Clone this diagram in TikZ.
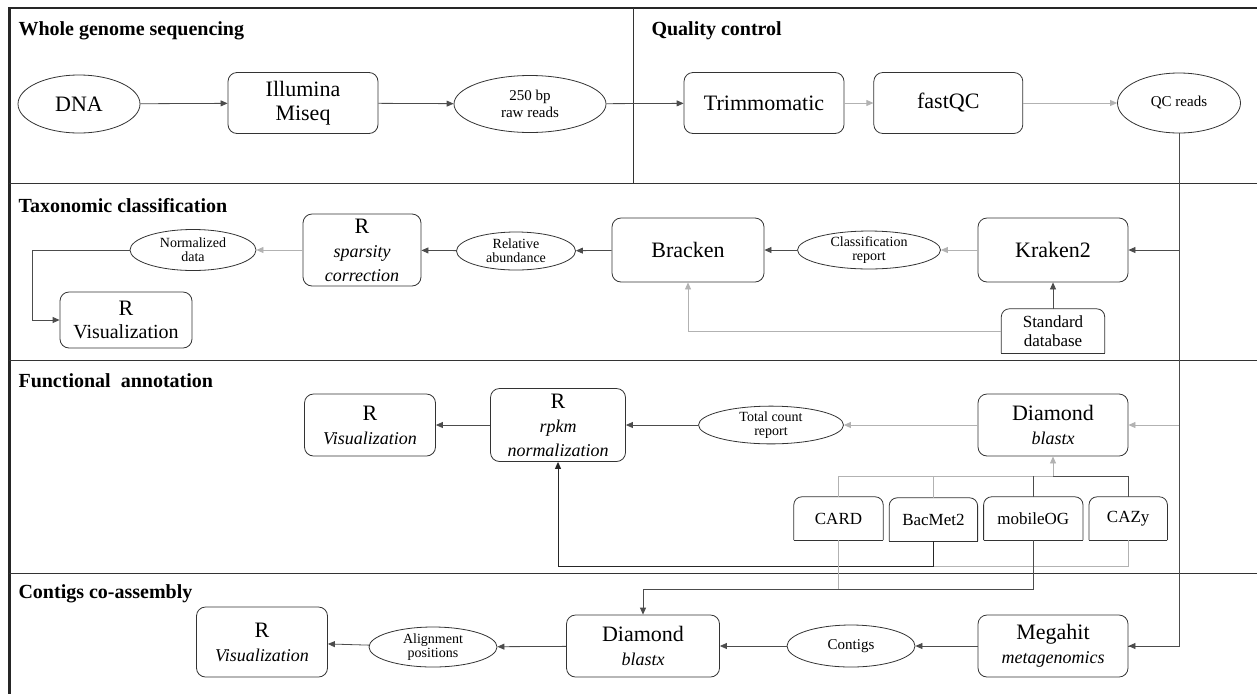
\documentclass[tikz,border=0pt]{standalone}
\usepackage{fontspec}
\setmainfont{Liberation Serif}
\usetikzlibrary{shapes.geometric, arrows.meta, positioning}

\newcommand{\subline}[1]{{\fontsize{18}{20}\selectfont\itshape #1}}

\tikzset{
  box/.style={draw=black!80, line width=0.8pt, rounded corners=9pt, align=center, inner sep=0pt, font=\fontsize{22}{24}\selectfont},
  oval/.style={draw=black!80, ellipse, line width=0.8pt, align=center, inner sep=0pt, font=\fontsize{14}{14}\selectfont},
  dbbox/.style={align=center, inner sep=0pt, minimum height=43pt, font=\fontsize{17}{19}\selectfont},
  sectitle/.style={anchor=base west, font=\fontsize{20}{22}\selectfont\bfseries},
  link/.style={draw=black!70, line width=0.8pt},
  faint/.style={draw=black!30, line width=0.8pt},
}

\begin{document}
\begin{tikzpicture}[x=1pt, y=-1pt, >={Triangle[length=7pt, width=6pt]}]
\useasboundingbox (0,0) rectangle (1257,694);

% Frame and lanes
\draw[line width=2pt, black!85] (8,8) -- (1257,8);
\draw[line width=3pt, black!85] (9.5,7) -- (9.5,694);
\foreach \y in {183,360,573}
  \draw[line width=1pt, black!80] (9,\y) -- (1257,\y);
\draw[line width=1pt, black!80] (633,8) -- (633,183);

% Titles
\node[sectitle] (twgs) at (15,35) {Whole genome sequencing};
\node[sectitle] (tqc) at (648,35) {Quality control};
\node[sectitle] (ttax) at (15,212) {Taxonomic classification};
\node[sectitle] (tfun) at (15,387) {Functional\ \ annotation};
\node[sectitle] (tcon) at (15,598) {Contigs co-assembly};

% Sequencing and QC
\node[oval, minimum width=122pt, minimum height=58pt, font=\fontsize{22}{24}\selectfont] (dna) at (79,104) {DNA};
\node[box, minimum width=150pt, minimum height=61pt] (illumina) at (303,103) {Illumina\\Miseq};
\node[oval, minimum width=152pt, minimum height=57pt, font=\fontsize{15}{17}\selectfont] (raw) at (530,104) {250 bp\\raw reads};
\node[box, minimum width=160pt, minimum height=61pt] (trim) at (764,103) {Trimmomatic};
\node[box, minimum width=149pt, minimum height=61pt, right=29pt of trim] (fastqc) {fastQC};
\node[oval, minimum width=123pt, minimum height=60pt, font=\fontsize{15}{17}\selectfont] (qcreads) at (1179,103) {QC reads};

% Taxonomic classification
\node[box, minimum width=150pt, minimum height=64pt] (kraken) at (1053,250) {Kraken2};
\node[oval, minimum width=143pt, minimum height=36pt] (classrep) at (869,250) {Classification\\report};
\node[box, minimum width=152pt, minimum height=64pt] (bracken) at (688,250) {Bracken};
\node[oval, minimum width=119pt, minimum height=38pt] (relab) at (516,251) {Relative\\abundance};
\node[box, minimum width=118pt, minimum height=72pt] (sparsity) at (362,250) {R\\\subline{sparsity}\\\subline{correction}};
\node[oval, minimum width=126pt, minimum height=41pt] (normdata) at (193,250) {Normalized\\data};
\node[box, minimum width=132pt, minimum height=56pt, font=\fontsize{20}{23}\selectfont] (rvistax) at (126,320) {{\fontsize{22}{24}\selectfont R}\\Visualization};
\node[dbbox, minimum width=103pt, minimum height=44pt] (stddb) at (1053,331) {Standard\\database};

% Functional annotation
\node[box, minimum width=150pt, minimum height=62pt] (diamond) at (1053,425) {Diamond\\\subline{blastx}};
\node[oval, minimum width=145pt, minimum height=37pt] (totcount) at (771,425) {Total count\\report};
\node[box, minimum width=135pt, minimum height=73pt] (rpkm) at (558,425) {R\\\subline{rpkm}\\\subline{normalization}};
\node[box, minimum width=131pt, minimum height=62pt] (rvisfun) at (370,425) {R\\\subline{Visualization}};
\node[dbbox, minimum width=89pt] (card) at (838.5,518.5) {CARD};
\node[dbbox, minimum width=88pt, right=6pt of card, yshift=-1pt] (bacmet) {BacMet2};
\node[dbbox, minimum width=99pt, right=6pt of bacmet, yshift=1pt] (mobileog) {mobileOG};
\node[dbbox, minimum width=78pt, right=6pt of mobileog] (cazy) {CAZy};
\foreach \n in {stddb,card,bacmet,mobileog,cazy} {
  \draw[black!80, line width=0.8pt, rounded corners=8pt] (\n.south west) -- (\n.north west) -- (\n.north east) -- (\n.south east);
  \draw[black!80, line width=0.8pt] (\n.south west) -- (\n.south east);
}

% Contigs co-assembly
\node[box, minimum width=150pt, minimum height=62pt] (megahit) at (1053,646) {Megahit\\\subline{metagenomics}};
\node[oval, minimum width=128pt, minimum height=42pt, font=\fontsize{15}{17}\selectfont] (contigs) at (851,646) {Contigs};
\node[box, minimum width=153pt, minimum height=62pt] (diamcon) at (643,646) {Diamond\\\subline{blastx}};
\node[oval, minimum width=128pt, minimum height=40pt] (alignpos) at (433,647) {Alignment\\positions};
\node[box, minimum width=131pt, minimum height=70pt] (rviscon) at (262,642) {R\\\subline{Visualization}};

% Helper points
\coordinate (dbbus) at (0,476);
\coordinate (lowbus) at (0,566);
\coordinate (conbus) at (0,589);

% Arrows
\draw[link, ->] (dna) -- (illumina);
\draw[link, ->] (illumina) -- (raw);
\draw[link, ->] (raw) -- (trim);
\draw[faint, ->] (trim) -- (fastqc);
\draw[faint, ->] (fastqc) -- (qcreads);
\draw[link] (qcreads.south) |- (megahit.east);
\draw[link, ->] (qcreads.south |- megahit.east) -- (megahit.east);
\draw[link, ->] (qcreads.south |- kraken.east) -- (kraken.east);
\draw[faint, ->] (qcreads.south |- diamond.east) -- (diamond.east);

\draw[faint, ->] (kraken) -- (classrep);
\draw[link, ->] (classrep) -- (bracken);
\draw[link, ->] (bracken) -- (relab);
\draw[link, ->] (relab) -- (sparsity);
\draw[faint, ->] (sparsity) -- (normdata);
\draw[link, ->] (normdata.west) -- ++(-97,0) |- (rvistax.west);
\draw[link, ->] (stddb) -- (kraken);
\draw[faint, ->] (stddb.west) -| (bracken.south);

\draw[faint, ->] (diamond) -- (totcount);
\draw[link, ->] (totcount) -- (rpkm);
\draw[link, ->] (rpkm) -- (rvisfun);
\draw[faint] (card.north) |- (diamond.south |- dbbus);
\draw[faint] (bacmet.north) -- (bacmet.north |- dbbus);
\draw[link] (mobileog.north) -- (mobileog.north |- dbbus);
\draw[link] (cazy.north) |- (diamond.south |- dbbus);
\draw[faint, ->] (diamond.south |- dbbus) -- (diamond.south);
\draw[faint] (cazy.south) |- (bacmet.south |- lowbus);
\draw[black!85, line width=1pt, ->] (bacmet.south) |- (rpkm.south |- lowbus) -- (rpkm.south);
\draw[faint] (card.south) -- (card.south |- conbus);
\draw[link, ->] (mobileog.south) |- (diamcon.north |- conbus) -- (diamcon.north);

\draw[link, ->] (megahit) -- (contigs);
\draw[link, ->] (contigs) -- (diamcon);
\draw[link, ->] (diamcon) -- (alignpos);
\draw[link, ->] (alignpos) -- (rviscon);
\end{tikzpicture}
\end{document}
